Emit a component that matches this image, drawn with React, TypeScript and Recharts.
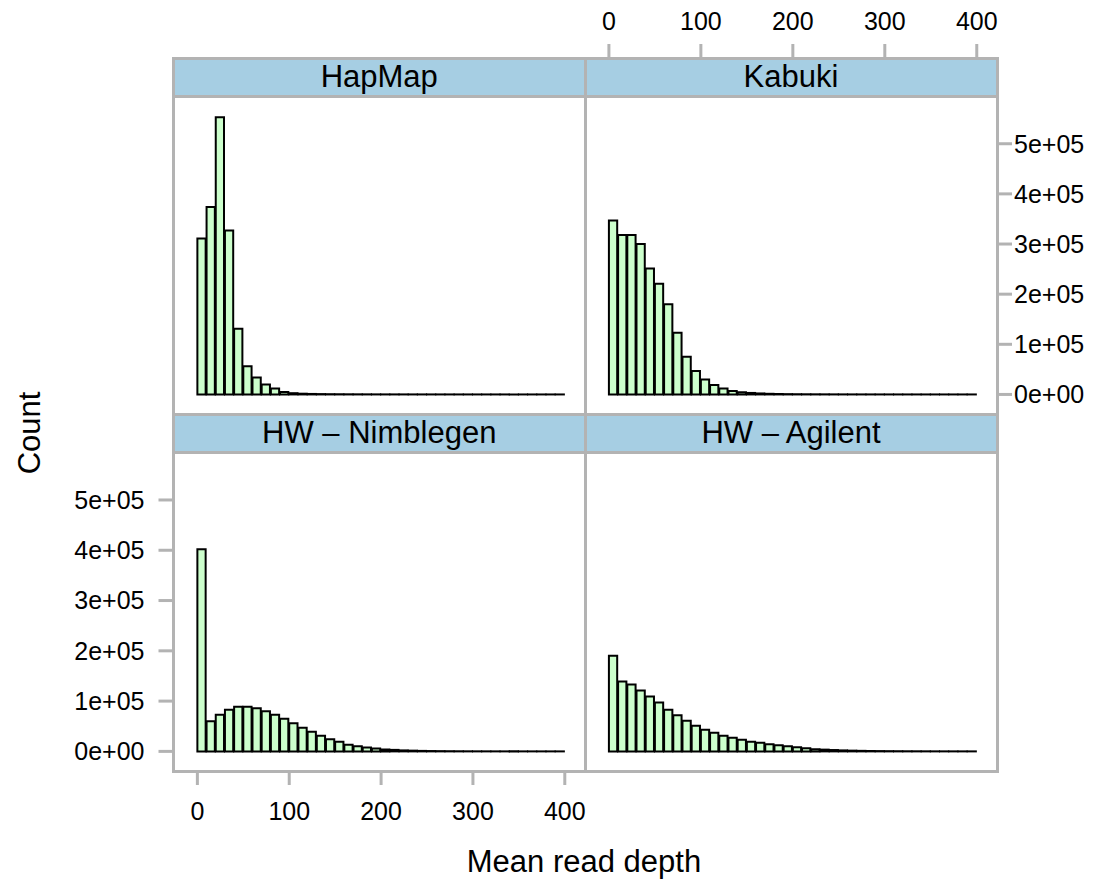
import React from "react";
import { BarChart, Bar, XAxis, YAxis } from "recharts";

// bin centres (bins of width 10 from 0 to 400)
const binCenters = [
  5, 15, 25, 35, 45, 55, 65, 75, 85, 95, 105, 115, 125, 135, 145, 155, 165, 175, 185, 195,
  205, 215, 225, 235, 245, 255, 265, 275, 285, 295, 305, 315, 325, 335, 345, 355, 365, 375, 385, 395,
];

const hapmap = [
  311000, 374000, 553000, 327000, 131000, 56000, 34000, 20000, 12000, 5000, 2500, 1500, 1000, 700, 500, 400,
  300, 250, 200, 150, 120, 100, 90, 80, 70, 60, 50, 40, 35, 30, 25, 20, 20, 15, 15, 10, 10, 10, 5, 5,
];
const kabuki = [
  347000, 318000, 318000, 300000, 251000, 221000, 180000, 123000, 75000, 47000, 30000, 19000, 12000, 7000,
  4500, 3000, 2000, 1300, 900, 600, 450, 350, 270, 200, 160, 130, 100, 80, 60, 50, 40, 30, 25, 20, 15, 12, 10,
  8, 6, 5,
];
const nimblegen = [
  402000, 60000, 73000, 83000, 89000, 89000, 86000, 80000, 73000, 65000, 56000, 47000, 39000, 31000, 24000,
  19000, 13000, 10000, 7500, 5500, 4000, 3000, 2000, 1500, 1000, 700, 500, 350, 250, 180, 130, 100, 70, 50, 40,
  30, 20, 15, 10, 5,
];
const agilent = [
  190000, 139000, 133000, 121000, 109000, 97000, 83000, 72000, 61000, 51000, 43000, 37000, 31000, 27000, 23000,
  19000, 17000, 14000, 12000, 10000, 8000, 6000, 4500, 3500, 2700, 2000, 1500, 1100, 800, 600, 450, 350, 250,
  200, 150, 100, 80, 60, 40, 30,
];

const xTicks = [0, 100, 200, 300, 400];
const yTicks = [0, 100000, 200000, 300000, 400000, 500000];
const yTickLabels = ["0e+00", "1e+05", "2e+05", "3e+05", "4e+05", "5e+05"];

const FONT = "'Liberation Sans', Arial, Helvetica, sans-serif";
const GREY = "#b3b3b3";
const W = 1108;
const H = 884;
const xDomain: [number, number] = [-26, 422];
const yDomain: [number, number] = [-39000, 671000];

type Panel = {
  name: string;
  values: number[];
  left: number;
  top: number;
  width: number;
  height: number;
  xSide: "top" | "bottom";
  xLabels: boolean;
  ySide: "left" | "right";
  yLabels: boolean;
};

const panels: Panel[] = [
  { name: "HapMap", values: hapmap, left: 173.5, top: 58, width: 411.5, height: 356, xSide: "top", xLabels: false, ySide: "left", yLabels: false },
  { name: "Kabuki", values: kabuki, left: 585, top: 58, width: 412, height: 356, xSide: "top", xLabels: true, ySide: "right", yLabels: true },
  { name: "HW \u2013 Nimblegen", values: nimblegen, left: 173.5, top: 414, width: 411.5, height: 357, xSide: "bottom", xLabels: true, ySide: "left", yLabels: true },
  { name: "HW \u2013 Agilent", values: agilent, left: 585, top: 414, width: 412, height: 357, xSide: "bottom", xLabels: false, ySide: "right", yLabels: false },
];

const STRIP_H = 38.5;

function PanelChart({ p }: { p: Panel }) {
  const data = binCenters.map((mid, i) => ({ mid, count: p.values[i] }));
  const xH = p.xSide === "top" ? p.top : H - (p.top + p.height);
  const yW = p.ySide === "left" ? p.left : W - (p.left + p.width);
  const margin = {
    top: p.xSide === "top" ? 0 : p.top,
    bottom: p.xSide === "bottom" ? 0 : H - (p.top + p.height),
    left: p.ySide === "left" ? 0 : p.left,
    right: p.ySide === "right" ? 0 : W - (p.left + p.width),
  };
  const barSize = (10 * p.width) / (xDomain[1] - xDomain[0]);
  const tickStyle = { fill: "#000", fontSize: 25, fontFamily: FONT };
  const tickLine = { stroke: GREY, strokeWidth: 3 };
  return (
    <div style={{ position: "absolute", left: 0, top: 0 }}>
      <BarChart width={W} height={H} data={data} margin={margin} barCategoryGap={0}>
        <XAxis
          dataKey="mid"
          type="number"
          domain={xDomain}
          allowDataOverflow
          ticks={xTicks}
          interval={0}
          orientation={p.xSide}
          height={xH}
          axisLine={false}
          tickLine={tickLine}
          tickSize={14}
          tickMargin={p.xSide === "top" ? 14 : 17}
          tick={p.xLabels ? tickStyle : false}
        />
        <YAxis
          type="number"
          domain={yDomain}
          allowDataOverflow
          ticks={yTicks}
          interval={0}
          orientation={p.ySide}
          width={yW}
          axisLine={false}
          tickLine={tickLine}
          tickSize={15}
          tickMargin={p.ySide === "left" ? 14 : 2}
          tickFormatter={(v: number) => yTickLabels[yTicks.indexOf(v)]}
          tick={p.yLabels ? tickStyle : false}
        />
        <Bar
          dataKey="count"
          fill="#ccffcc"
          stroke="#000"
          strokeWidth={2}
          barSize={barSize}
          isAnimationActive={false}
        />
      </BarChart>
    </div>
  );
}

function Frame({ p }: { p: Panel }) {
  return (
    <>
      <div
        style={{
          position: "absolute",
          left: p.left,
          top: p.top,
          width: p.width,
          height: STRIP_H,
          background: "#a6cee3",
          display: "flex",
          alignItems: "center",
          justifyContent: "center",
          fontFamily: FONT,
          fontSize: 31,
          color: "#000",
        }}
      >
        {p.name}
      </div>
      <div
        style={{
          position: "absolute",
          left: p.left - 1.5,
          top: p.top + STRIP_H - 1.5,
          width: p.width + 3,
          height: 3,
          background: GREY,
        }}
      />
      <div
        style={{
          position: "absolute",
          left: p.left - 1.5,
          top: p.top - 1.5,
          width: p.width + 3,
          height: p.height + 3,
          border: `3px solid ${GREY}`,
          boxSizing: "border-box",
        }}
      />
    </>
  );
}

export default function App() {
  return (
    <div style={{ position: "absolute", left: 0, top: 0, width: W, height: H, background: "#fff", fontFamily: FONT }}>
      {panels.map((p) => (
        <PanelChart key={p.name} p={p} />
      ))}
      {panels.map((p) => (
        <Frame key={p.name + "-frame"} p={p} />
      ))}
      <div
        style={{
          position: "absolute",
          left: 30,
          top: 433,
          transform: "translate(-50%, -50%) rotate(-90deg)",
          fontSize: 31,
          whiteSpace: "nowrap",
        }}
      >
        Count
      </div>
      <div
        style={{
          position: "absolute",
          left: 584,
          top: 862,
          transform: "translate(-50%, -50%)",
          fontSize: 31,
          whiteSpace: "nowrap",
        }}
      >
        Mean read depth
      </div>
    </div>
  );
}
